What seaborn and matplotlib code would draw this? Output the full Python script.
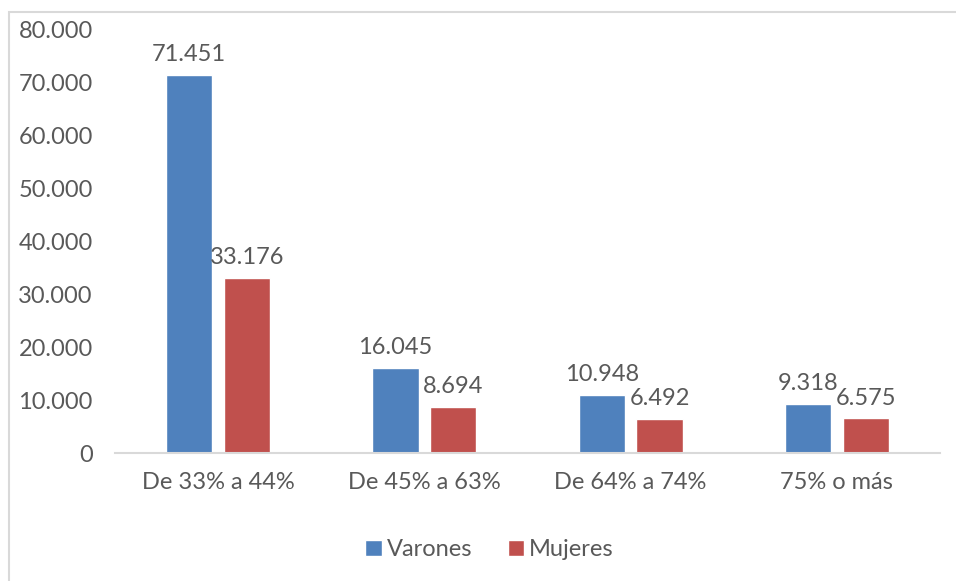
import pandas as pd
import matplotlib
matplotlib.use('Agg')
import matplotlib.pyplot as plt
from matplotlib.patches import Rectangle
import seaborn as sns

categories = ['De 33% a 44%', 'De 45% a 63%', 'De 64% a 74%', '75% o más']
varones = [71451, 16045, 10948, 9318]
mujeres = [33176, 8694, 6492, 6575]
series_names = ['Varones', 'Mujeres']
yticks = [0, 10000, 20000, 30000, 40000, 50000, 60000, 70000, 80000]

df = pd.DataFrame({
    'Grado': categories * 2,
    'Sexo': [series_names[0]] * 4 + [series_names[1]] * 4,
    'Personas': varones + mujeres,
})

def miles(v):
    # Spanish thousands separator
    return f'{int(round(v)):,}'.replace(',', '.')

sns.set_style('white')
plt.rcParams['font.family'] = ['Lato', 'DejaVu Sans']
grey = '#595959'
fs = 17

fig = plt.figure(figsize=(9.56, 5.81), dpi=100)
ax = fig.add_axes([0.1203, 0.2203, 0.8630, 0.7281])

sns.barplot(data=df, x='Grado', y='Personas', hue='Sexo', ax=ax,
            palette=['#4F81BD', '#C0504D'], width=0.56, gap=0.2,
            saturation=1, legend=True)

for cont in ax.containers:
    ax.bar_label(cont, labels=[miles(b.get_height()) for b in cont],
                 padding=7, fontsize=fs, color=grey)

ax.set_ylim(0, 80000)
ax.set_xlim(-0.5, 3.5)
ax.set_yticks(yticks)
ax.set_yticklabels([miles(t) for t in yticks])
ax.set_xlabel('')
ax.set_ylabel('')
ax.tick_params(axis='both', length=0, labelsize=fs, labelcolor=grey)
ax.tick_params(axis='y', pad=16)
ax.tick_params(axis='x', pad=14)
for s in ['top', 'right', 'left']:
    ax.spines[s].set_visible(False)
ax.spines['bottom'].set_color('#D9D9D9')
ax.spines['bottom'].set_linewidth(1.5)

handles, labels = ax.get_legend_handles_labels()
ax.legend_.remove()
fig.legend(handles, labels, loc='center', bbox_to_anchor=(0.512, 0.0534),
           ncol=2, frameon=False, fontsize=fs, labelcolor=grey,
           handlelength=0.7, handleheight=0.7, handletextpad=0.2,
           columnspacing=1.5)

# chart area border (only left and top edges visible in the crop)
fig.patches.append(Rectangle((9 / 956, -0.1), 1.2, 1 - 12 / 581 + 0.1,
                             transform=fig.transFigure, fill=False,
                             edgecolor='#D9D9D9', linewidth=1.5))

fig.savefig('out.png', dpi=100)
